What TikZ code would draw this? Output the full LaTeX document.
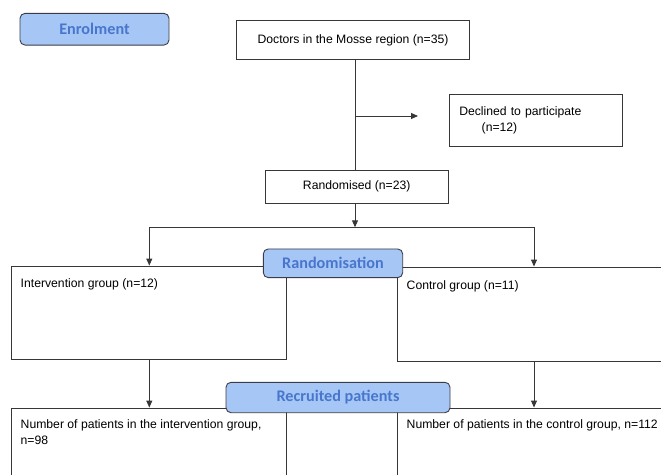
\documentclass[tikz,border=0pt]{standalone}
\usepackage{fontspec}
\setmainfont{Liberation Sans}
\newfontfamily\stagefont{Carlito}
\usetikzlibrary{positioning,arrows.meta}
\definecolor{stagefill}{RGB}{166,199,246}
\definecolor{stagetext}{RGB}{72,118,204}
\definecolor{stageline}{RGB}{60,60,70}
\definecolor{boxline}{RGB}{55,55,55}
\tikzset{
	box/.style={draw=boxline, line width=0.9pt, inner sep=0pt, font=\fontsize{12.2}{15.7}\selectfont},
	txt/.style={inner sep=0pt, align=left, font=\fontsize{12.2}{16}\selectfont, anchor=north west},
	stage/.style={draw=stageline, fill=stagefill, rounded corners=5pt, line width=0.9pt, inner sep=0pt,
		text=stagetext, font=\stagefont\bfseries\fontsize{16.2}{18}\selectfont},
	arr/.style={-{Triangle[length=7pt,width=6pt]}},
}
\begin{document}
\begin{tikzpicture}[x=1pt,y=-1pt]
\useasboundingbox (0,0) rectangle (661,474);
\begin{scope}[draw=boxline, line width=0.9pt]
	\node[box, minimum width=232.3pt, minimum height=38.6pt] (doctors) at (353,40) {Doctors in the Mosse region (n=35)};
	\node[box, minimum height=51.7pt, text width=153.8pt, inner xsep=9.6pt, align=left] (declined) at (536.2,120.2)
		{Declined to participate\\\hspace*{22.4pt}(n=12)};
	\node[box, minimum width=182.7pt, minimum height=33.3pt] (randomised) at (356.7,186.7) {Randomised (n=23)};

	\node[box, minimum width=275pt, minimum height=93.5pt] (interv) at (148.5,312.75) {};
	\node[box, minimum width=323pt, minimum height=94.5pt] (control) at (558.5,314.25) {};
	\node[box, minimum width=275pt, minimum height=112pt] (ipat) at (148.5,464) {};
	\node[box, minimum width=323pt, minimum height=112pt] (cpat) at (558.5,464) {};

	\node[txt] (intervtxt) at ([xshift=9.7pt,yshift=-12.6pt]interv.north west) {Intervention group (n=12)};
	\node[txt] (controltxt) at ([xshift=9.7pt,yshift=-13.6pt]control.north west) {Control group (n=11)};
	\node[txt] (ipattxt) at ([xshift=9.7pt,yshift=-12pt]ipat.north west) {Number of patients in the intervention group,\\n=98};
	\node[txt] (cpattxt) at ([xshift=9.7pt,yshift=-12pt]cpat.north west) {Number of patients in the control group, n=112};

	\coordinate (split) at (355,116);
	\coordinate (declarrow) at (418,116);
	\coordinate (fork) at (355,227.3);
	\coordinate (forkL) at (149.3,227.3);
	\coordinate (forkR) at (534,227.3);

	\draw (doctors.south -| split) -- (randomised.north -| split);
	\draw[arr] (split) -- (declarrow);
	\draw[arr] (randomised.south -| fork) -- (fork);
	\draw (forkL) -- (forkR);
	\draw[arr] (forkL) -- (forkL |- interv.north);
	\draw[arr] (forkR) -- (forkR |- control.north);
	\draw[arr] (interv.south -| forkL) -- (ipat.north -| forkL);
	\draw[arr] (control.south -| forkR) -- (cpat.north -| forkR);
\end{scope}

\node[stage, minimum width=149pt, minimum height=31.7pt] (enrol) at (94.5,29.2) {Enrolment};
\node[stage, minimum width=139.4pt, minimum height=28.7pt] (randlab) at (333,263.3) {Randomisation};
\node[stage, minimum width=224pt, minimum height=30.4pt] (recruit) at (338,397.5) {Recruited patients};
\end{tikzpicture}
\end{document}
